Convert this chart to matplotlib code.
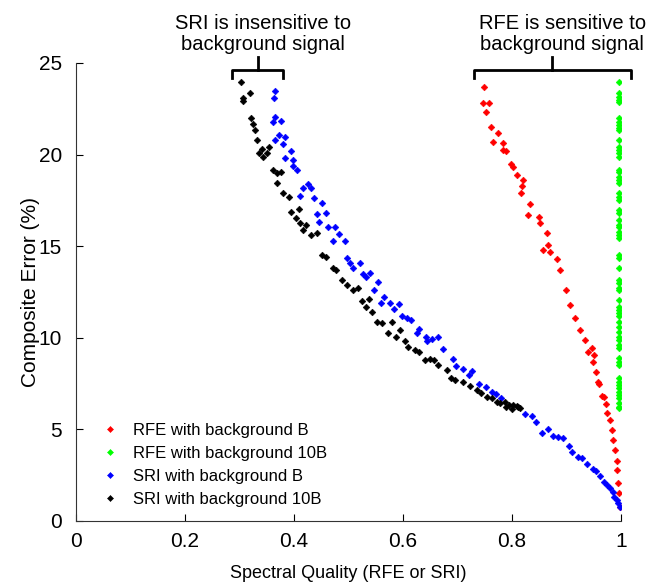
"""
Composite error vs spectral quality (RFE / SRI) with two background levels
"""

import matplotlib
matplotlib.use("Agg")
import matplotlib.pyplot as plt

plt.rcParams["font.family"] = ["Liberation Sans", "DejaVu Sans"]

# RFE with background B
rfe_b_x = [0.749, 0.746, 0.757, 0.752, 0.761, 0.774, 0.766, 0.784, 0.784, 0.790,
           0.798, 0.802, 0.810, 0.821, 0.819, 0.816, 0.834, 0.830, 0.850, 0.851,
           0.864, 0.867, 0.857, 0.870, 0.882, 0.888, 0.899, 0.906, 0.916, 0.925,
           0.934, 0.940, 0.946, 0.950, 0.949, 0.955, 0.958, 0.960, 0.966, 0.968,
           0.972, 0.974, 0.980, 0.983, 0.986, 0.989, 0.992, 0.993, 0.995, 0.996,
           0.998]
rfe_b_y = [23.7, 22.8, 22.8, 22.3, 21.5, 21.2, 20.7, 20.65, 20.25, 20.2,
           19.5, 19.3, 18.9, 18.6, 18.3, 17.9, 17.3, 16.7, 16.6, 16.25,
           15.7, 15.07, 14.8, 14.7, 14.3, 13.7, 12.6, 11.8, 11.1, 10.4,
           9.9, 9.24, 9.42, 9.06, 8.7, 8.15, 7.6, 7.5, 6.82, 6.79,
           6.4, 5.88, 5.5, 4.97, 4.4, 3.9, 3.3, 2.8, 2.06, 1.5,
           0.78]

# RFE with background 10B (all at ~1)
rfe_10b_y = [23.95, 23.35, 23.16, 22.98, 22.89, 21.98, 21.8, 21.62, 21.43, 21.34,
             20.8, 20.43, 20.25, 20.07, 19.89, 19.16, 19.07, 18.8, 18.61, 18.43,
             17.89, 17.7, 17.52, 16.97, 16.79, 16.43, 16.16, 16.06, 15.79, 15.61,
             15.43, 14.52, 14.34, 13.8, 13.16, 12.97, 12.7, 12.6, 12.06, 11.7,
             11.52, 11.34, 11.16, 10.88, 10.61, 10.34, 10.06, 9.88, 9.61, 9.42,
             8.88, 8.7, 8.52, 7.79, 7.6, 7.42, 7.24, 7.06, 6.88, 6.7,
             6.42, 6.24, 6.15]
rfe_10b_x = [0.997] * len(rfe_10b_y)

# SRI with background B
sri_b_x = [0.366, 0.364, 0.365, 0.362, 0.377, 0.366, 0.373, 0.383, 0.379, 0.394,
           0.383, 0.398, 0.399, 0.406, 0.426, 0.417, 0.432, 0.411, 0.437, 0.452,
           0.442, 0.459, 0.446, 0.463, 0.475, 0.483, 0.472, 0.494, 0.497, 0.503,
           0.509, 0.521, 0.527, 0.539, 0.533, 0.555, 0.546, 0.565, 0.559, 0.576,
           0.583, 0.593, 0.598, 0.607, 0.615, 0.630, 0.625, 0.642, 0.644, 0.654,
           0.665, 0.674, 0.692, 0.698, 0.711, 0.727, 0.721, 0.739, 0.752, 0.763,
           0.770, 0.780, 0.824, 0.836, 0.844, 0.867, 0.855, 0.876, 0.885, 0.893,
           0.905, 0.911, 0.922, 0.928, 0.938, 0.948, 0.955, 0.961, 0.969, 0.974,
           0.980, 0.985, 0.987, 0.992, 0.995, 0.998]
sri_b_y = [23.47, 23.07, 22.07, 21.8, 21.83, 20.8, 21.07, 20.98, 20.56, 20.2,
           19.8, 19.7, 19.4, 19.16, 18.4, 18.16, 18.16, 17.74, 17.6, 17.34,
           16.74, 16.8, 16.34, 16.06, 16.06, 15.67, 15.28, 15.28, 14.37, 14.07,
           13.8, 14.07, 13.5, 13.55, 13.3, 13.06, 12.6, 12.24, 11.88, 11.88,
           11.55, 11.83, 11.19, 11.06, 10.97, 10.46, 10.28, 10.03, 9.84, 9.93,
           10.03, 9.39, 8.83, 8.46, 8.28, 8.2, 7.97, 7.46, 7.33, 7.06,
           6.95, 6.73, 5.82, 5.75, 5.42, 5.0, 4.82, 4.66, 4.57, 4.51,
           4.09, 3.78, 3.51, 3.42, 3.11, 2.82, 2.75, 2.46, 2.15, 1.97,
           1.78, 1.6, 1.33, 1.15, 0.97, 0.75]

# SRI with background 10B
sri_10b_x = [0.303, 0.307, 0.319, 0.306, 0.321, 0.325, 0.329, 0.333, 0.341, 0.354,
             0.336, 0.344, 0.350, 0.361, 0.368, 0.377, 0.369, 0.380, 0.390, 0.409,
             0.394, 0.404, 0.411, 0.422, 0.417, 0.431, 0.442, 0.451, 0.459, 0.472,
             0.478, 0.488, 0.497, 0.509, 0.518, 0.524, 0.538, 0.532, 0.544, 0.553,
             0.561, 0.573, 0.579, 0.594, 0.587, 0.604, 0.610, 0.622, 0.630, 0.640,
             0.650, 0.657, 0.664, 0.680, 0.689, 0.695, 0.711, 0.723, 0.735, 0.744,
             0.754, 0.763, 0.772, 0.778, 0.787, 0.795, 0.802, 0.812, 0.790, 0.800,
             0.810, 0.815]
sri_10b_y = [23.94, 23.07, 23.35, 22.93, 21.98, 21.65, 21.34, 20.8, 20.29, 20.4,
             20.07, 19.89, 20.1, 19.16, 18.98, 19.07, 18.43, 17.89, 17.7, 17.03,
             16.88, 16.56, 16.25, 16.16, 15.88, 15.61, 15.7, 14.52, 14.43, 13.8,
             13.7, 13.16, 12.88, 12.6, 12.7, 12.03, 12.1, 11.7, 11.43, 10.88,
             10.79, 10.28, 10.88, 10.43, 10.03, 9.84, 9.51, 9.33, 9.24, 8.79,
             8.84, 8.8, 8.52, 8.24, 7.79, 7.7, 7.6, 7.37, 7.15, 6.97,
             6.79, 6.7, 6.51, 6.42, 6.51, 6.33, 6.33, 6.24, 6.2, 6.1,
             6.25, 6.15]

series = [
    (rfe_b_x, rfe_b_y, "#ff0000", "RFE with background B"),
    (rfe_10b_x, rfe_10b_y, "#00ff00", "RFE with background 10B"),
    (sri_b_x, sri_b_y, "#0000ff", "SRI with background B"),
    (sri_10b_x, sri_10b_y, "#000000", "SRI with background 10B"),
]

fig = plt.figure(figsize=(6.55, 5.88), dpi=100)
ax = fig.add_axes([0.116, 0.114, 0.832, 0.779])

for xs, ys, color, label in series:
    ax.plot(xs, ys, linestyle="none", marker="D", markersize=3.4,
            color=color, markeredgewidth=0.4, label=label)

ax.set_xlim(0, 1)
ax.set_ylim(0, 25)
ax.set_xticks([0, 0.2, 0.4, 0.6, 0.8, 1])
ax.set_xticklabels(["0", "0.2", "0.4", "0.6", "0.8", "1"])
ax.set_yticks([0, 5, 10, 15, 20, 25])
ax.tick_params(direction="in", length=5, labelsize=15, width=0.8)
ax.tick_params(axis="x", pad=8)
ax.tick_params(axis="y", pad=10)
ax.spines["top"].set_visible(False)
ax.spines["right"].set_visible(False)
for s in ("left", "bottom"):
    ax.spines[s].set_linewidth(0.8)
    ax.spines[s].set_color("#333333")

ax.set_xlabel("Spectral Quality (RFE or SRI)", fontsize=13, labelpad=10)
ax.set_ylabel("Composite Error (%)", fontsize=15, labelpad=-1)

leg = ax.legend(loc="lower left", bbox_to_anchor=(0.013, -0.006), frameon=False,
                fontsize=12, markerscale=0.9, handlelength=1.2,
                handletextpad=0.8, labelspacing=0.48, borderaxespad=0.6)

# brackets and annotations above the plot
def bracket(x0, x1, xc, ytop=24.6, yend=24.15, ytick=25.3):
    ax.plot([x0, x0, x1, x1], [yend, ytop, ytop, yend], color="black",
            linewidth=2, clip_on=False, solid_joinstyle="round")
    ax.plot([xc, xc], [ytop, ytick], color="black", linewidth=2, clip_on=False)

bracket(0.286, 0.380, 0.334)
bracket(0.730, 1.018, 0.873)

ax.text(0.343, 25.5, "SRI is insensitive to\nbackground signal", ha="center",
        va="bottom", fontsize=14.5, linespacing=1.1, clip_on=False)
ax.text(0.892, 25.5, "RFE is sensitive to\nbackground signal", ha="center",
        va="bottom", fontsize=14.5, linespacing=1.1, clip_on=False)

fig.savefig("out.png", dpi=100)
